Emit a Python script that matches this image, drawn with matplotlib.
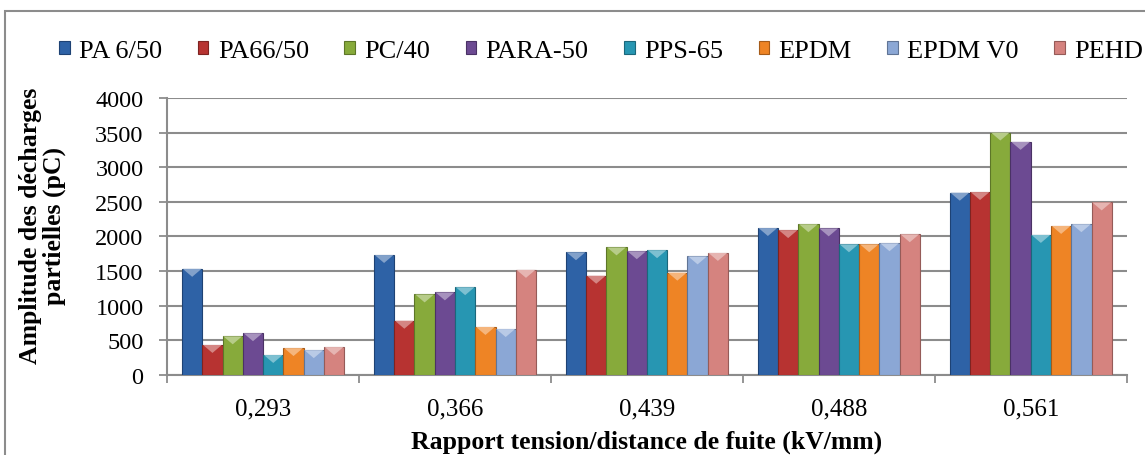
import numpy as np
import matplotlib.pyplot as plt
from matplotlib.colors import to_rgb
from matplotlib.patches import Rectangle

categories = ["0,293", "0,366", "0,439", "0,488", "0,561"]
series = ["PA 6/50", "PA66/50", "PC/40", "PARA-50", "PPS-65", "EPDM", "EPDM V0", "PEHD"]
pa6 = [1530, 1730, 1770, 2120, 2630]
pa66 = [430, 780, 1430, 2090, 2640]
pc40 = [555, 1160, 1840, 2175, 3500]
para50 = [600, 1190, 1785, 2115, 3365]
pps65 = [285, 1265, 1800, 1885, 2020]
epdm = [385, 690, 1475, 1885, 2150]
epdm_v0 = [355, 660, 1710, 1900, 2175]
pehd = [400, 1515, 1760, 2030, 2490]
values = [pa6, pa66, pc40, para50, pps65, epdm, epdm_v0, pehd]

colors = ["#2E62A6", "#B73331", "#87AA3B", "#6C4A92", "#2796B2", "#EE8425", "#8BA7D5", "#D5837F"]
edges = ["#1E4274", "#7E2321", "#5D7628", "#4A3265", "#1B677B", "#A55B19", "#607495", "#955B58"]


def lighter(c, f=0.4):
    r, g, b = to_rgb(c)
    return (r + (1 - r) * f, g + (1 - g) * f, b + (1 - b) * f)


plt.rcParams['font.family'] = ['Liberation Serif', 'DejaVu Serif']
fig = plt.figure(figsize=(11.45, 4.56), dpi=100)
fig.patches.append(Rectangle((0.004, -0.05), 1.1, 1.023, transform=fig.transFigure,
                             fill=False, edgecolor="#8C8C8C", linewidth=1.5))
ax = fig.add_axes([0.146, 0.176, 0.838, 0.607])

x = np.arange(len(categories))
n = len(series)
group = 0.845
w = group / n
cap = 115  # height of the bevel triangle on top of each bar, in pC
for i, (name, vals) in enumerate(zip(series, values)):
    pos = x - group / 2 + w * (i + 0.5)
    ax.bar(pos, vals, width=w, color=colors[i], edgecolor=edges[i], linewidth=0.8,
           label=name, zorder=3)
    for p, v in zip(pos, vals):
        ax.fill([p - w / 2 + 0.004, p + w / 2 - 0.004, p], [v, v, v - cap],
                color=lighter(colors[i]), lw=0, zorder=4)

ax.set_xlim(-0.5, len(categories) - 0.5)
ax.set_ylim(0, 4000)
ax.set_yticks(np.arange(0, 4001, 500))
ax.set_xticks(x)
ax.set_xticklabels(categories)
ax.set_xticks(np.arange(-0.5, len(categories)), minor=True)
ax.tick_params(axis='x', which='major', length=0, labelsize=18, pad=16)
ax.tick_params(axis='x', which='minor', length=6, width=1.3, color="#8C8C8C", direction='out')
ax.tick_params(axis='y', length=6, width=1.3, color="#8C8C8C", labelsize=17.5, pad=11)
ax.grid(axis='y', color="#8C8C8C", linewidth=1.5, zorder=0)
for s in ['top', 'right']:
    ax.spines[s].set_visible(False)
for s in ['left', 'bottom']:
    ax.spines[s].set_color("#8C8C8C")
    ax.spines[s].set_linewidth(1.5)

ax.set_ylabel("Amplitude des décharges\npartielles (pC)", fontsize=18.5, fontweight='bold',
              linespacing=1.05)
ax.yaxis.set_label_coords(-0.105, 0.54)
ax.set_xlabel("Rapport tension/distance de fuite (kV/mm)", fontsize=18.5, fontweight='bold',
              labelpad=8)

fig.legend(loc='center', bbox_to_anchor=(0.525, 0.886), ncol=n, frameon=False,
           fontsize=19, handlelength=0.4, handleheight=0.4, handletextpad=0.35,
           columnspacing=1.35, borderpad=0)

fig.savefig("out.png", dpi=100)
